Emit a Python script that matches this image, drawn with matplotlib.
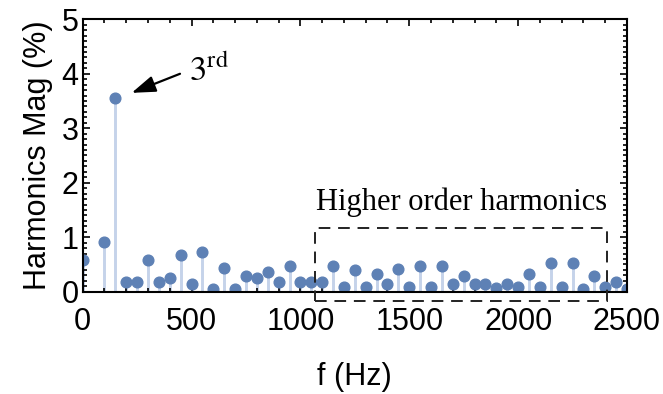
import matplotlib
matplotlib.use("Agg")
import matplotlib.pyplot as plt
from matplotlib.patches import Rectangle
from matplotlib.ticker import MultipleLocator

# harmonic frequencies (Hz) and magnitudes (%)
freq = [0, 100, 150, 200, 250, 300, 350, 400, 450, 500,
        550, 600, 650, 700, 750, 800, 850, 900, 950, 1000,
        1050, 1100, 1150, 1200, 1250, 1300, 1350, 1400, 1450, 1500,
        1550, 1600, 1650, 1700, 1750, 1800, 1850, 1900, 1950, 2000,
        2050, 2100, 2150, 2200, 2250, 2300, 2350, 2400, 2450, 2500]
mag = [0.58, 0.92, 3.55, 0.18, 0.18, 0.58, 0.18, 0.25, 0.67, 0.14,
       0.72, 0.05, 0.43, 0.05, 0.29, 0.25, 0.37, 0.18, 0.48, 0.18,
       0.18, 0.18, 0.47, 0.09, 0.39, 0.09, 0.32, 0.14, 0.42, 0.08,
       0.47, 0.09, 0.47, 0.14, 0.28, 0.14, 0.14, 0.06, 0.14, 0.09,
       0.32, 0.09, 0.53, 0.09, 0.53, 0.05, 0.28, 0.09, 0.18, 0.05]

x_ticks = [0, 500, 1000, 1500, 2000, 2500]
y_ticks = [0, 1, 2, 3, 4, 5]

plt.rcParams['font.family'] = ['Liberation Sans', 'DejaVu Sans']
plt.rcParams['mathtext.fontset'] = 'stix'

fig = plt.figure(figsize=(6.63, 3.94), dpi=100)
ax = fig.add_axes([0.1247, 0.2597, 0.821, 0.6913])

dot = '#5e81b5'
stem = '#c5d3ea'
ax.vlines(freq, 0, mag, color=stem, lw=2.1, zorder=1)
ax.plot(freq, mag, 'o', color=dot, ms=7.7, zorder=2)

ax.set_xlim(0, 2500)
ax.set_ylim(0, 5)
ax.set_xticks(x_ticks)
ax.set_yticks(y_ticks)
ax.xaxis.set_minor_locator(MultipleLocator(100))
ax.yaxis.set_minor_locator(MultipleLocator(0.1))
ax.tick_params(which='both', direction='in', top=True, right=True,
               width=1.2, color='black')
ax.tick_params(which='major', length=5, labelsize=22)
ax.tick_params(which='minor', length=3)
ax.tick_params(axis='x', pad=11)
ax.tick_params(axis='y', pad=3)
for s in ax.spines.values():
    s.set_linewidth(1.5)

ax.set_xlabel('f (Hz)', fontsize=22, labelpad=18)
ax.set_ylabel('Harmonics Mag (%)', fontsize=22, labelpad=6)

# 3rd harmonic callout
ax.annotate('', xy=(225, 3.65), xytext=(447, 4.0),
            arrowprops=dict(arrowstyle='-|>,head_length=1.45,head_width=0.5',
                            mutation_scale=10, color='black', lw=1.6,
                            shrinkA=0, shrinkB=0))
ax.text(490, 3.87, r'$3^{\mathrm{rd}}$', fontsize=25, ha='left',
        va='baseline')

# higher-order box
ax.add_patch(Rectangle((1066, -0.17), 2406 - 1066, 1.16 + 0.17,
                       fill=False, ls=(0, (6, 4)), lw=1.4, ec='#222222',
                       clip_on=False, zorder=3))
ax.text(1740, 1.65, 'Higher order harmonics', fontsize=22,
        family=['Liberation Serif', 'DejaVu Serif'], ha='center',
        va='center')

fig.savefig('out.png', dpi=100)
